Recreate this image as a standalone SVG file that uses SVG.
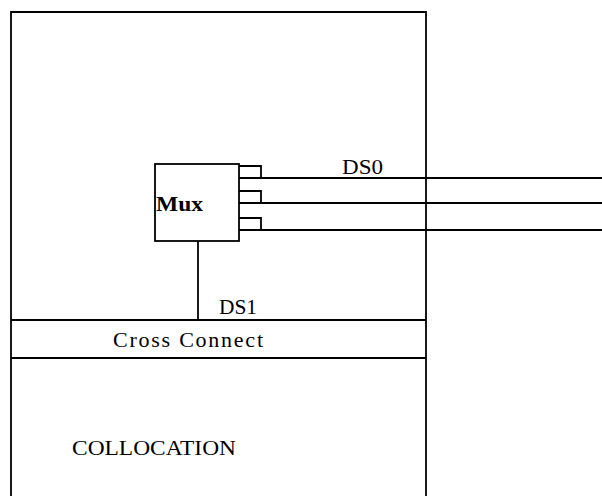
<svg xmlns="http://www.w3.org/2000/svg" width="602" height="496" viewBox="0 0 602 496">
<style>
.ln{fill:none;stroke:#000;stroke-width:1.8}
.t{font-family:"Liberation Serif","Times New Roman",serif;font-size:22px;fill:#000}
.b{font-weight:bold}
</style>
<rect width="602" height="496" fill="#fff"/>
<g id="collocation">
<path class="ln" d="M11,500 V12 H426 V500"/>
<text class="t" x="72" y="455" textLength="164" lengthAdjust="spacingAndGlyphs">COLLOCATION</text>
</g>
<g id="cross-connect">
<path class="ln" d="M11,320 H426 M11,358 H426"/>
<text class="t" x="113" y="347" textLength="150" lengthAdjust="spacing">Cross Connect</text>
</g>
<g id="mux">
<rect class="ln" x="155" y="164" width="84" height="77"/>
<path class="ln" d="M239,166 H261 V178 M239,191 H261 V203 M239,218 H261 V230"/>
<text class="t b" x="156" y="211" textLength="47" lengthAdjust="spacingAndGlyphs">Mux</text>
</g>
<g id="connectors">
<path class="ln" d="M239,178 H602 M239,203 H602 M239,230 H602"/>
<path class="ln" d="M198,241 V320"/>
<text class="t" x="342" y="174" textLength="41" lengthAdjust="spacingAndGlyphs">DS0</text>
<text class="t" x="219" y="314" textLength="38" lengthAdjust="spacingAndGlyphs">DS1</text>
</g>
</svg>
